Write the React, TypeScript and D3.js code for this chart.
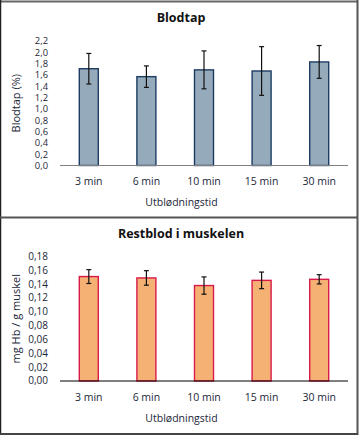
import React from 'react';
import * as d3 from 'd3';

const categories = ['3 min', '6 min', '10 min', '15 min', '30 min'];

const blodtapValues = [1.71, 1.57, 1.69, 1.67, 1.83];
const blodtapErrors = [0.27, 0.19, 0.335, 0.43, 0.29];
const blodtapTicks = [0, 0.2, 0.4, 0.6, 0.8, 1.0, 1.2, 1.4, 1.6, 1.8, 2.0, 2.2];

const restblodValues = [0.151, 0.149, 0.138, 0.1455, 0.147];
const restblodErrors = [0.01, 0.0105, 0.0125, 0.012, 0.0067];
const restblodTicks = [0, 0.02, 0.04, 0.06, 0.08, 0.1, 0.12, 0.14, 0.16, 0.18];

const FONT = "'Open Sans', 'DejaVu Sans', sans-serif";

interface PanelProps {
  top: number;
  title: string;
  yLabel: string;
  values: number[];
  errors: number[];
  ticks: number[];
  yMax: number;
  decimals: number;
  fill: string;
  stroke: string;
  axisColor: string;
}

const Panel: React.FC<PanelProps> = ({
  top, title, yLabel, values, errors, ticks, yMax, decimals, fill, stroke, axisColor
}) => {
  const plotTop = top + 41;
  const plotBottom = top + 165.5;

  const x = d3.scaleBand<string>()
    .domain(categories)
    .range([60, 348])
    .paddingInner(0.67)
    .paddingOuter(0.335);

  const y = d3.scaleLinear()
    .domain([0, yMax])
    .range([plotBottom, plotTop]);

  const fmt = (v: number) => v.toFixed(decimals).replace('.', ',');
  const tickSize = ticks.length > 10 ? 9.4 : 10;

  return (
    <g>
      <text x={181} y={top + 22} textAnchor="middle" fontSize={12.5} fontWeight="bold" fill="#111">
        {title}
      </text>
      {ticks.map(t => (
        <text key={t} x={48} y={y(t) + 3.4} textAnchor="end" fontSize={tickSize} fill="#1c2738">
          {fmt(t)}
        </text>
      ))}
      <text
        transform={`translate(20,${(plotTop + plotBottom) / 2}) rotate(-90)`}
        textAnchor="middle"
        fontSize={11}
        fill="#1c2738"
      >
        {yLabel}
      </text>
      {values.map((v, i) => (
        <rect
          key={categories[i]}
          x={x(categories[i])!}
          y={y(v)}
          width={x.bandwidth()}
          height={plotBottom - y(v)}
          fill={fill}
          stroke={stroke}
          strokeWidth={1.4}
        />
      ))}
      <line x1={60} x2={348} y1={plotBottom} y2={plotBottom} stroke={axisColor} strokeWidth={1.2} />
      {values.map((v, i) => {
        const cx = x(categories[i])! + x.bandwidth() / 2;
        const y1 = y(v + errors[i]);
        const y2 = y(v - errors[i]);
        return (
          <g key={'e' + i} stroke="#111" strokeWidth={1.2}>
            <line x1={cx} x2={cx} y1={y1} y2={y2} />
            <line x1={cx - 2.5} x2={cx + 2.5} y1={y1} y2={y1} />
            <line x1={cx - 2.5} x2={cx + 2.5} y1={y2} y2={y2} />
          </g>
        );
      })}
      {categories.map(c => (
        <text key={c} x={x(c)! + x.bandwidth() / 2} y={top + 185} textAnchor="middle" fontSize={10.5} fill="#1c2738">
          {c}
        </text>
      ))}
      <text x={181.5} y={top + 206} textAnchor="middle" fontSize={10.5} fill="#1c2738">
        Utblødningstid
      </text>
    </g>
  );
};

const App: React.FC = () => {
  return (
    <svg
      width={362}
      height={437}
      style={{ position: 'absolute', left: 0, top: 0, fontFamily: FONT }}
    >
      <rect x={0} y={0} width={362} height={437} fill="#fff" />
      <Panel
        top={0}
        title="Blodtap"
        yLabel="Blodtap (%)"
        values={blodtapValues}
        errors={blodtapErrors}
        ticks={blodtapTicks}
        yMax={2.2}
        decimals={1}
        fill="#95abbc"
        stroke="#1d3c63"
        axisColor="#808080"
      />
      <Panel
        top={215.5}
        title="Restblod i muskelen"
        yLabel="mg Hb / g muskel"
        values={restblodValues}
        errors={restblodErrors}
        ticks={restblodTicks}
        yMax={0.18}
        decimals={2}
        fill="#f5b073"
        stroke="#d81a4a"
        axisColor="#000"
      />
      {/* frames */}
      <line x1={0} x2={358} y1={1.5} y2={1.5} stroke="#666" strokeWidth={2} />
      <line x1={0.5} x2={0.5} y1={0} y2={435} stroke="#222" strokeWidth={1.5} />
      <line x1={357.5} x2={357.5} y1={0} y2={435} stroke="#555" strokeWidth={2} />
      <line x1={0} x2={358} y1={217.5} y2={217.5} stroke="#555" strokeWidth={2} />
      <line x1={0} x2={358} y1={434} y2={434} stroke="#444" strokeWidth={2} />
    </svg>
  );
};

export default App;
